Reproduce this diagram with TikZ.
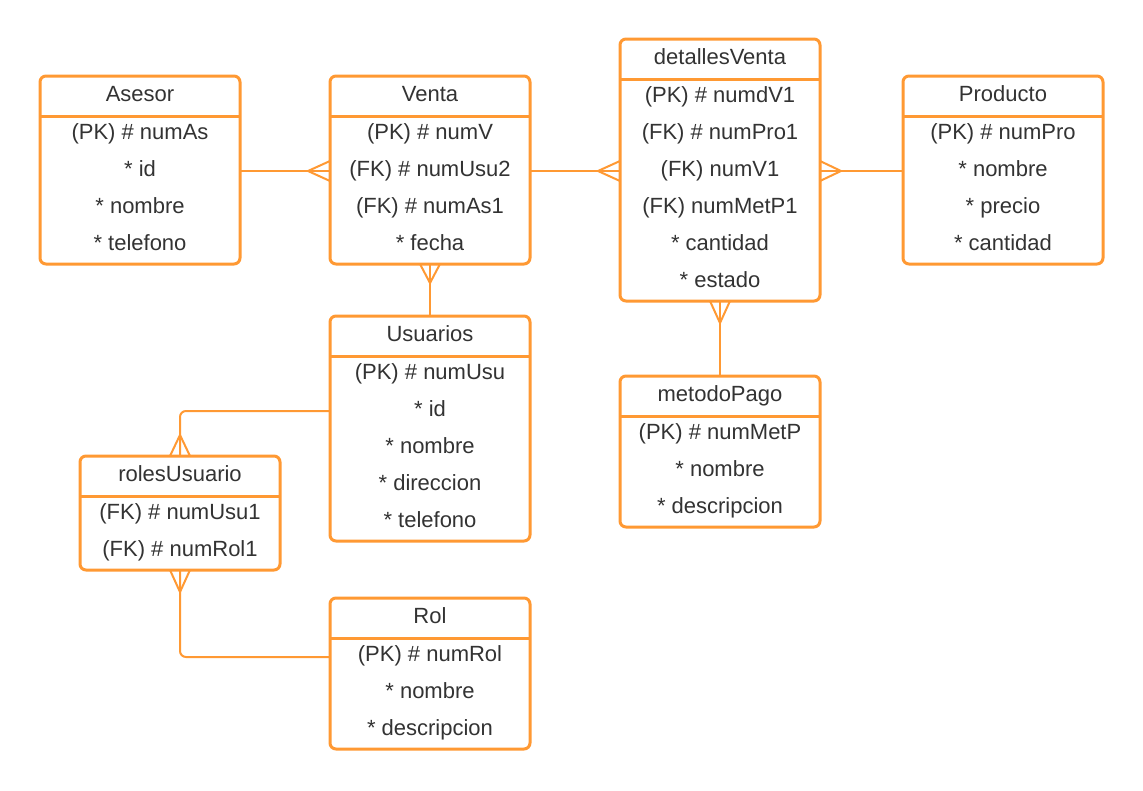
\documentclass[tikz,border=0pt]{standalone}
\usepackage{fontspec}
\setmainfont{Liberation Sans}
\definecolor{erorange}{RGB}{255,153,51}
\definecolor{ertext}{RGB}{51,51,51}
\newcommand\erent[6]{%
  \node[entframe, minimum height={(40+37*#4)*1pt}, anchor=north west] (#1) at (#2,#3) {};
  \draw[entline] ([yshift=-40pt]#1.north west) -- ([yshift=-40pt]#1.north east);
  \node[enttext] (#1-t) at ([yshift=-25.5pt]#1.north) {#5};
  \foreach \r [count=\i] in {#6} {%
    \node[enttext] (#1-\i) at ([yshift={-(63.5+37*(\i-1))*1pt}]#1.north) {\r};
  }%
}
\begin{document}
\begin{tikzpicture}[x=1pt,y=-1pt,
  entframe/.style={draw=erorange, line width=3pt, rounded corners=6pt, minimum width=200pt, inner sep=0pt, outer sep=0pt, fill=white},
  entline/.style={draw=erorange, line width=3pt},
  enttext/.style={text=ertext, inner sep=0pt, font=\fontsize{22pt}{24pt}\selectfont, anchor=base},
  conn/.style={draw=erorange, line width=2pt}]
\useasboundingbox[fill=white] (0,0) rectangle (1143,790);

\erent{asesor}{40}{76}{4}{Asesor}{(PK) \# numAs,* id,* nombre,* telefono}
\erent{venta}{330}{76}{4}{Venta}{(PK) \# numV,(FK) \# numUsu2,(FK) \# numAs1,* fecha}
\erent{detalles}{620}{39}{6}{detallesVenta}{(PK) \# numdV1,(FK) \# numPro1,(FK) numV1,(FK) numMetP1,* cantidad,* estado}
\erent{producto}{903}{76}{4}{Producto}{(PK) \# numPro,* nombre,* precio,* cantidad}
\erent{usuarios}{330}{316}{5}{Usuarios}{(PK) \# numUsu,* id,* nombre,* direccion,* telefono}
\erent{metodo}{620}{376}{3}{metodoPago}{(PK) \# numMetP,* nombre,* descripcion}
\erent{roles}{80}{456}{2}{rolesUsuario}{(FK) \# numUsu1,(FK) \# numRol1}
\erent{rol}{330}{598}{3}{Rol}{(PK) \# numRol,* nombre,* descripcion}

% Asesor -- Venta
\draw[conn] ([yshift=-95pt]asesor.north east) -- ([yshift=-95pt]venta.north west);
\draw[conn] ([yshift=-85pt]venta.north west) -- ([xshift=-22pt,yshift=-95pt]venta.north west) -- ([yshift=-105pt]venta.north west);
% Venta -- detallesVenta
\draw[conn] ([yshift=-95pt]venta.north east) -- ([yshift=-132pt]detalles.north west);
\draw[conn] ([yshift=-122pt]detalles.north west) -- ([xshift=-22pt,yshift=-132pt]detalles.north west) -- ([yshift=-142pt]detalles.north west);
% Producto -- detallesVenta
\draw[conn] ([yshift=-95pt]producto.north west) -- ([yshift=-132pt]detalles.north east);
\draw[conn] ([yshift=-122pt]detalles.north east) -- ([xshift=21pt,yshift=-132pt]detalles.north east) -- ([yshift=-142pt]detalles.north east);
% Venta -- Usuarios
\draw[conn] (venta.south) -- (usuarios.north);
\draw[conn] ([xshift=-10pt]venta.south) -- ([yshift=-19pt]venta.south) -- ([xshift=10pt]venta.south);
% detallesVenta -- metodoPago
\draw[conn] (detalles.south) -- (metodo.north);
\draw[conn] ([xshift=-10pt]detalles.south) -- ([yshift=-22pt]detalles.south) -- ([xshift=10pt]detalles.south);
% Usuarios -- rolesUsuario
\draw[conn, rounded corners=6pt] ([yshift=-95pt]usuarios.north west) -| (roles.north);
\draw[conn] ([xshift=-10pt]roles.north) -- ([yshift=21pt]roles.north) -- ([xshift=10pt]roles.north);
% Rol -- rolesUsuario
\draw[conn, rounded corners=6pt] ([yshift=-59pt]rol.north west) -| (roles.south);
\draw[conn] ([xshift=-10pt]roles.south) -- ([yshift=-22pt]roles.south) -- ([xshift=10pt]roles.south);
\end{tikzpicture}
\end{document}
